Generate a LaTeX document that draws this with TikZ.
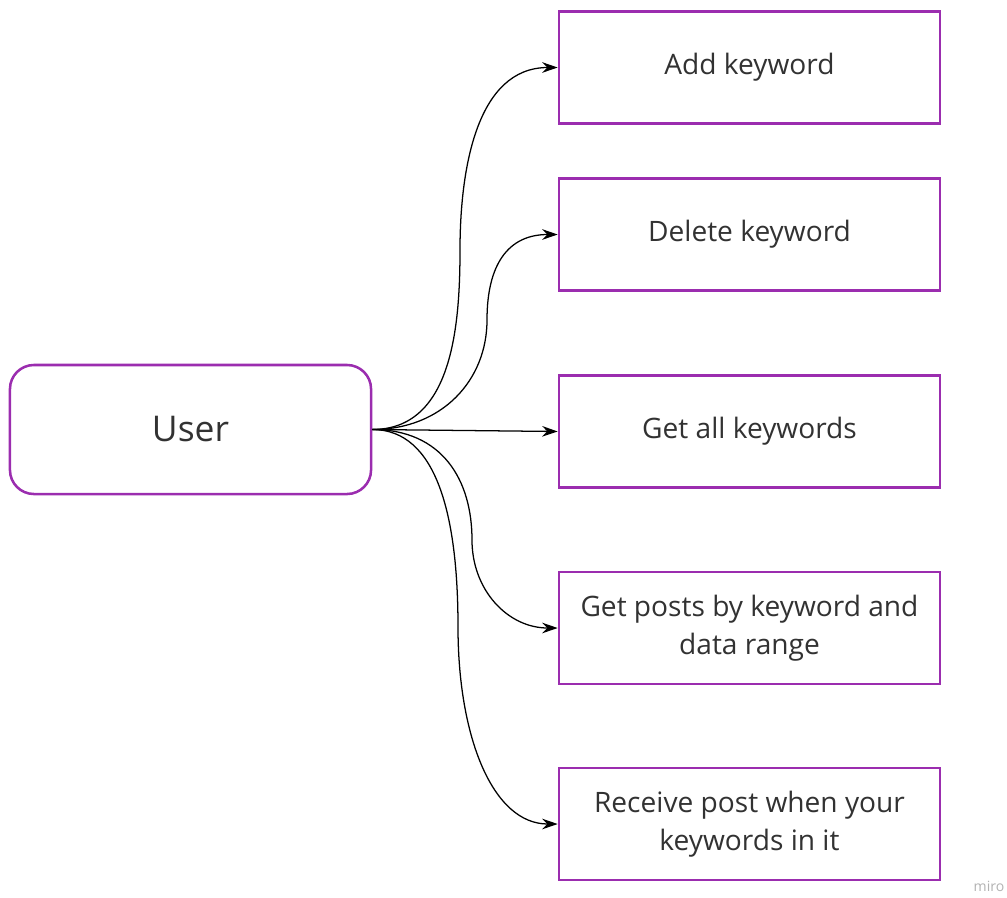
\documentclass[tikz,border=0pt]{standalone}
\usepackage{fontspec}
\setmainfont{Open Sans}
\usetikzlibrary{arrows.meta, positioning, calc}
\definecolor{boxpurple}{RGB}{155,45,175}
\definecolor{textgray}{RGB}{50,50,50}

\begin{document}
\begin{tikzpicture}[x=0.025cm, y=-0.025cm,
  action/.style={draw=boxpurple, line width=1.8pt, minimum width=9.525cm, minimum height=2.8cm,
    inner sep=0pt, align=center, text=textgray, font=\fontsize{20}{26.6}\selectfont},
  actor/.style={draw=boxpurple, line width=1.8pt, rounded corners=0.6cm, minimum width=9.025cm,
    minimum height=3.225cm, text=textgray, font=\fontsize{25.2}{30}\selectfont},
  link/.style={line width=0.9pt, -{Stealth[length=11pt, width=7.5pt]}}]
  \useasboundingbox (0,0) rectangle (1007,897);

  % Actor
  \node[actor] (user) at (190.5,429.5) {User};

  % Use cases
  \node[action] (add) at (749.5,67.5) {Add keyword};
  \node[action] (del) at (749.5,234.5) {Delete keyword};
  \node[action] (all) at (749.5,431.5) {Get all keywords};
  \node[action] (posts) at (749.5,628) {Get posts by keyword and\\data range};
  \node[action] (recv) at (749.5,824) {Receive post when your\\keywords in it};

  % Bends of the curved links
  \coordinate (bendA) at (460,250);
  \coordinate (bendB) at (487,320);
  \coordinate (bendD) at (472,540);
  \coordinate (bendE) at (458,627);

  % Links
  \draw[link] (user.east) .. controls +(79,0) and +(0,79) .. (bendA)
    .. controls +(0,-81) and +(-81,0) .. (add.west);
  \draw[link] (user.east) .. controls +(70,0) and +(0,60) .. (bendB)
    .. controls +(0,-55) and +(-50,0) .. (del.west);
  \draw[link] (user.east) -- (all.west);
  \draw[link] (user.east) .. controls +(70,0) and +(0,-60) .. (bendD)
    .. controls +(0,50) and +(-50,0) .. (posts.west);
  \draw[link] (user.east) .. controls +(65,0) and +(0,-110) .. (bendE)
    .. controls +(0,110) and +(-65,0) .. (recv.west);

  % Watermark
  \node[text=black!30, font=\fontsize{10}{12}\selectfont] (miro) at (989,886) {miro};
\end{tikzpicture}
\end{document}
